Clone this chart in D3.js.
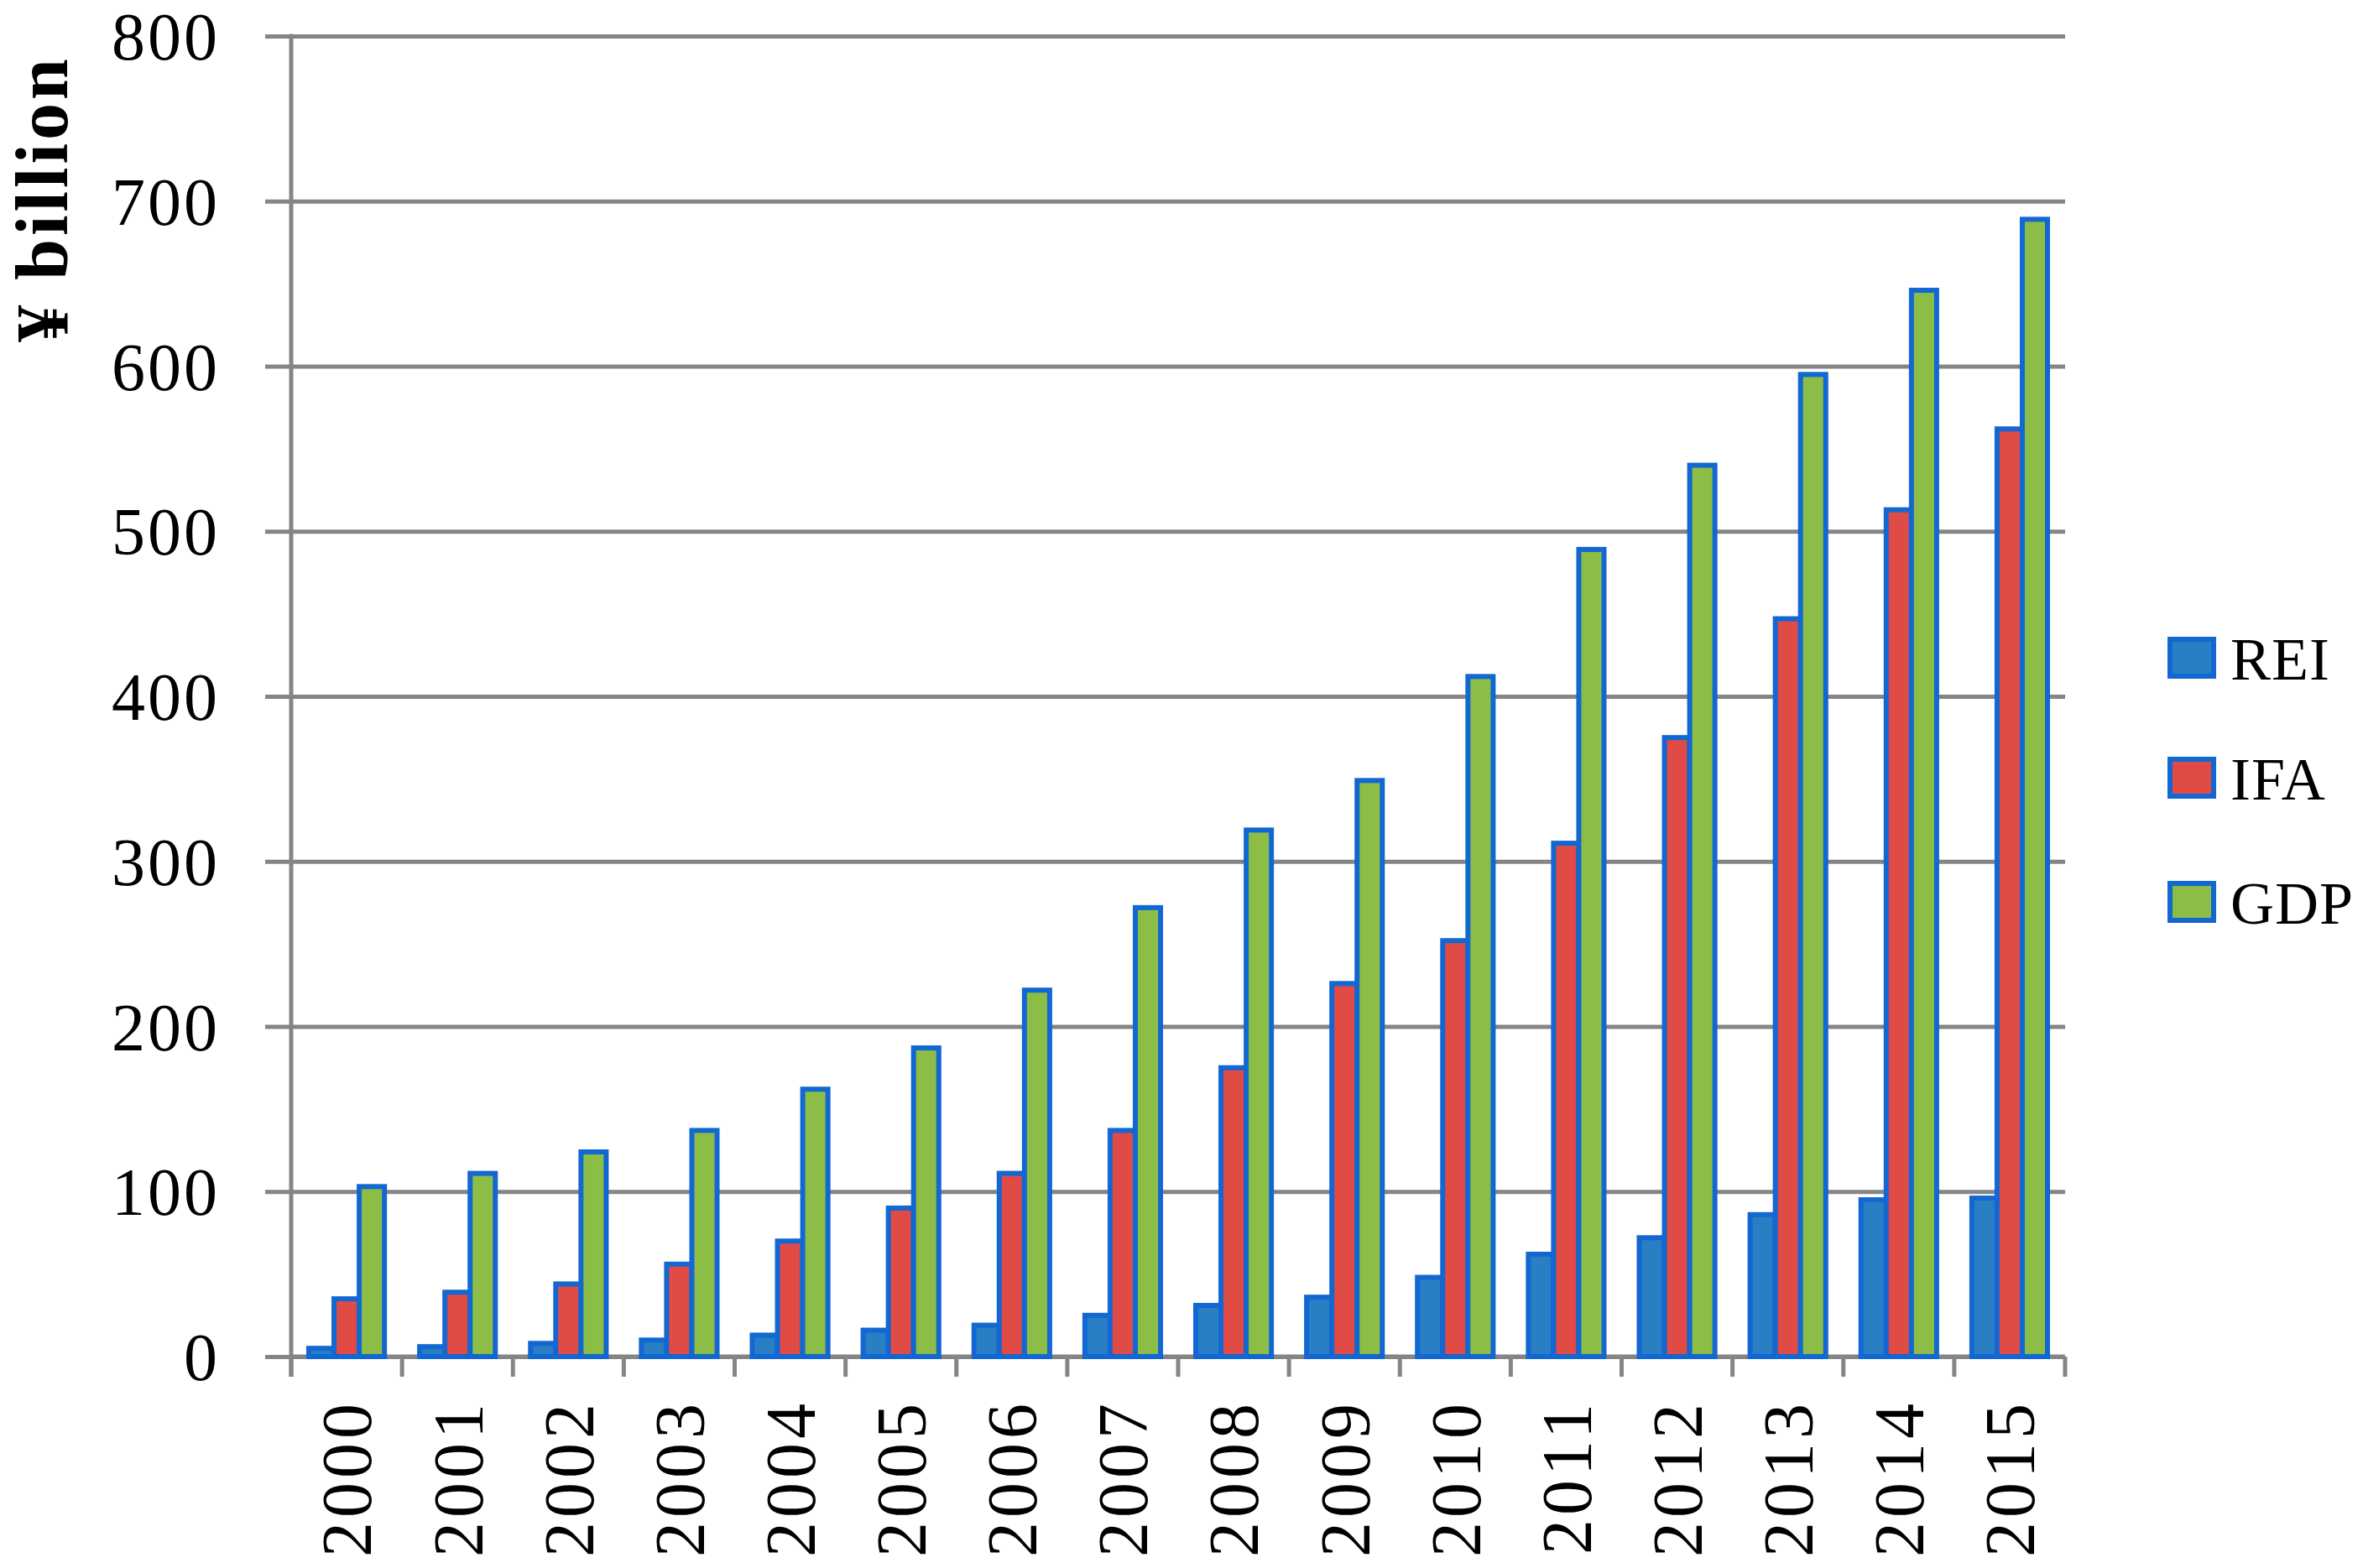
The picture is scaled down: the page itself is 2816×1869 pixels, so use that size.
<!DOCTYPE html>
<html>
<head>
<meta charset="utf-8">
<script src="https://cdn.jsdelivr.net/npm/d3@7"></script>
<style>
  html, body { margin: 0; padding: 0; background: #fff; }
  svg { display: block; }
  text { font-family: "Liberation Serif", "Times New Roman", serif; fill: #000; }
</style>
</head>
<body>
<svg id="chart" width="2816" height="1869"></svg>
<script>
const years = ["2000","2001","2002","2003","2004","2005","2006","2007","2008","2009","2010","2011","2012","2013","2014","2015"];
const seriesNames = ["REI", "IFA", "GDP"];
const REI = [5, 6, 8, 10, 13, 16, 19, 25, 31, 36, 48, 62, 72, 86, 95, 96];
const IFA = [35, 39, 44, 56, 70, 90, 111, 137, 175, 226, 252, 311, 375, 447, 513, 562];
const GDP = [103, 111, 124, 137, 162, 187, 222, 272, 319, 349, 412, 489, 540, 595, 646, 689];
const yTicks = [0, 100, 200, 300, 400, 500, 600, 700, 800];
const colors = { REI: "#2a7fc4", IFA: "#e04b45", GDP: "#8cbd47" };
const outline = "#1267d2";
const gridColor = "#858585";

const values = { REI, IFA, GDP };

const svg = d3.select("#chart");
const plotLeft = 347, plotRight = 2461, plotTop = 43, plotBottom = 1617;

const y = d3.scaleLinear().domain([0, 800]).range([plotBottom, plotTop]);
const pi = 42 / 132.25;
const x0 = d3.scaleBand().domain(years).range([plotLeft, plotRight]).paddingInner(pi).paddingOuter(pi / 2);
const x1 = d3.scaleBand().domain(seriesNames).range([0, x0.bandwidth()]).padding(0);

// gridlines with left tick stubs
const gy = svg.append("g").attr("transform", `translate(${plotLeft},0)`)
  .call(d3.axisLeft(y).tickValues(yTicks).tickSize(-(plotRight - plotLeft)).tickFormat("").tickSizeOuter(0));
gy.select(".domain").remove();
gy.selectAll(".tick line").attr("stroke", gridColor).attr("stroke-width", 5).attr("x1", -31);

// y tick labels
svg.append("g").selectAll("text").data(yTicks).join("text")
  .attr("x", 262).attr("y", d => y(d)).attr("dy", "0.35em")
  .attr("text-anchor", "end").attr("font-size", 80).attr("letter-spacing", 3)
  .text(d => d);

// y axis line
svg.append("line").attr("x1", plotLeft).attr("x2", plotLeft).attr("y1", plotTop - 2.5).attr("y2", plotBottom + 24)
  .attr("stroke", gridColor).attr("stroke-width", 5);

// x axis line
svg.append("line").attr("x1", plotLeft).attr("x2", plotRight).attr("y1", plotBottom).attr("y2", plotBottom)
  .attr("stroke", gridColor).attr("stroke-width", 5);

// x tick marks at band boundaries
const step = x0.step();
svg.append("g").selectAll("line").data(d3.range(years.length + 1)).join("line")
  .attr("x1", i => plotLeft + i * step).attr("x2", i => plotLeft + i * step)
  .attr("y1", plotBottom).attr("y2", plotBottom + 24)
  .attr("stroke", gridColor).attr("stroke-width", 5);

// bars
const groups = svg.append("g").selectAll("g").data(years).join("g")
  .attr("transform", d => `translate(${x0(d)},0)`);
groups.selectAll("rect")
  .data((yr, i) => seriesNames.map(s => ({ s, v: values[s][i] })))
  .join("rect")
  .attr("x", d => x1(d.s))
  .attr("width", x1.bandwidth())
  .attr("y", d => y(d.v))
  .attr("height", d => plotBottom - y(d.v))
  .attr("fill", d => colors[d.s])
  .attr("stroke", outline)
  .attr("stroke-width", 6);

// x labels
svg.append("g").selectAll("text").data(years).join("text")
  .attr("transform", d => `translate(${x0(d) + x0.bandwidth() / 2},1668) rotate(-90)`)
  .attr("text-anchor", "end").attr("dy", "0.35em")
  .attr("font-size", 84).attr("letter-spacing", 5)
  .text(d => d);

// y axis title
svg.append("text")
  .attr("transform", "translate(80,237) rotate(-90)")
  .attr("text-anchor", "middle").attr("font-size", 88).attr("font-weight", "bold")
  .attr("letter-spacing", 4)
  .text("¥ billion");

// legend
const legendY = [785, 928, 1076];
const lg = svg.append("g").selectAll("g").data(seriesNames).join("g")
  .attr("transform", (d, i) => `translate(2586,${legendY[i]})`);
lg.append("rect").attr("x", 0).attr("y", -23).attr("width", 52).attr("height", 44)
  .attr("fill", d => colors[d]).attr("stroke", outline).attr("stroke-width", 6);
lg.append("text").attr("x", 72).attr("y", 0).attr("dy", "0.35em")
  .attr("font-size", 72).attr("letter-spacing", 1).text(d => d);
</script>
</body>
</html>
